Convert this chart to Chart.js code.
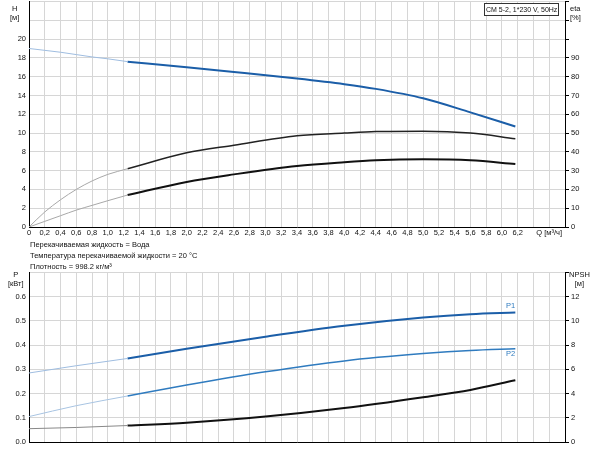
<!DOCTYPE html>
<html><head><meta charset="utf-8">
<script src="https://cdn.jsdelivr.net/npm/chart.js@4"></script>
<style>
body{margin:0;background:#fff;font-family:"Liberation Sans",Arial,sans-serif;overflow:hidden;}
#c1{position:absolute;left:0;top:-6px;}
#c2{position:absolute;left:0;top:265px;}
.t{position:absolute;font-size:7.5px;color:#111;line-height:9px;white-space:nowrap;}
</style></head><body>
<canvas id="c1" width="600" height="247"></canvas>
<canvas id="c2" width="600" height="185"></canvas>
<div class="t" style="left:10px;top:4px;text-align:center">H<br>[м]</div>
<div class="t" style="left:570px;top:4px">eta<br>[%]</div>
<div class="t" style="left:484px;top:3px;border:1px solid #333;padding:1px 1px;background:#fff;font-size:7px">CM 5-2, 1*230 V, 50Hz</div>
<div class="t" style="left:30px;top:240px">Перекачиваемая жидкость = Вода</div>
<div class="t" style="left:30px;top:251px">Температура перекачиваемой жидкости = 20 °C</div>
<div class="t" style="left:30px;top:262px">Плотность = 998.2 кг/м³</div>
<div class="t" style="left:8px;top:270px;text-align:center">P<br>[кВт]</div>
<div class="t" style="left:569px;top:270px;text-align:center">NPSH<br>[м]</div>
<div class="t" style="left:506px;top:301px;color:#2f7bbf">P1</div>
<div class="t" style="left:506px;top:349px;color:#2f7bbf">P2</div>
<script>
// data
const qThin = [0, 0.2, 0.4, 0.6, 0.8, 1.0, 1.25];
const qThick = [1.25, 2.0, 2.6, 3.4, 4.0, 4.4, 5.0, 5.6, 6.17];
const hThin = [19.0, 18.8, 18.6, 18.35, 18.1, 17.9, 17.6];
const hThick = [17.6, 17.0, 16.5, 15.8, 15.2, 14.7, 13.7, 12.2, 10.7];
const eta1Thin = [0, 8, 14.5, 20, 24.5, 28, 31];
const eta1Thick = [31, 39.5, 43.5, 48.5, 50, 50.8, 51, 50, 47];
const eta2Thin = [0, 3, 6, 9, 11.5, 14, 17];
const eta2Thick = [17, 24, 28, 32.5, 34.5, 35.5, 36, 35.5, 33.5];
const qP = [0, 0.6, 1.25, 2.0, 3.0, 4.0, 5.0, 5.6, 6.17];
const p1 = [0.285, 0.315, 0.345, 0.385, 0.435, 0.48, 0.514, 0.528, 0.535];
const p2 = [0.105, 0.15, 0.19, 0.235, 0.29, 0.335, 0.365, 0.378, 0.385];
const npsh = [1.1, 1.2, 1.36, 1.6, 2.1, 2.8, 3.7, 4.3, 5.1];

const xy=(xs,ys)=>xs.map((x,i)=>({x,y:ys[i]}));
const font={family:"Liberation Sans",size:7.5};
const grid='#d6d6d6';
const fmt=v=>{const r=Math.round(v*10)/10; if(r===0) return '0'; if(Math.abs(r-6.6)<1e-6) return 'Q [м³/ч]'; return r<=6.2?r.toFixed(1).replace('.',','):'';};
function ds(data,color,w,axis){return {data,borderColor:color,borderWidth:w,pointRadius:0,cubicInterpolationMode:'monotone',fill:false,yAxisID:axis};}
function xScale(show,h){return {type:'linear',min:0,max:6.8,
 ticks:{display:show,stepSize:0.2,autoSkip:false,maxRotation:0,font,color:'#111',callback:fmt,padding:1},
 grid:{color:grid,tickLength:0},border:{color:'#000'},
 afterFit:s=>{s.height=h;}};}
const common={responsive:false,animation:false,plugins:{legend:{display:false},tooltip:{enabled:false}}};

new Chart(document.getElementById('c1'),{type:'line',data:{datasets:[
 ds(xy(qThin,hThin),'#9fbde0',1,'y'),
 ds(xy(qThick,hThick),'#1b5ea8',2,'y'),
 ds(xy(qThin,eta1Thin),'#a8a8a8',1,'y2'),
 ds(xy(qThick,eta1Thick),'#222',1.5,'y2'),
 ds(xy(qThin,eta2Thin),'#a8a8a8',1,'y2'),
 ds(xy(qThick,eta2Thick),'#111',2,'y2')]},
 options:{...common,layout:{padding:{top:0,left:0,right:0,bottom:0}},scales:{
  x:xScale(true,14),
  y:{min:0,max:24,ticks:{stepSize:2,font,color:'#111',callback:v=>v<=20?v:'',padding:3},grid:{color:grid,tickLength:0},border:{color:'#000'},afterFit:s=>{s.width=29;}},
  y2:{position:'right',min:0,max:120,ticks:{stepSize:10,font,color:'#111',callback:v=>v<=90?v:'',padding:2},grid:{drawOnChartArea:false,color:'#000',tickLength:4},border:{color:'#000'},afterFit:s=>{s.width=35;}}
 }}});

new Chart(document.getElementById('c2'),{type:'line',data:{datasets:[
 ds(xy(qP.slice(0,3),p1.slice(0,3)),'#9fbde0',1,'y'),
 ds(xy(qP.slice(2),p1.slice(2)),'#1b5ea8',2,'y'),
 ds(xy(qP.slice(0,3),p2.slice(0,3)),'#a8c4e2',1,'y'),
 ds(xy(qP.slice(2),p2.slice(2)),'#2f7bbf',1.5,'y'),
 ds(xy(qP.slice(0,3),npsh.slice(0,3)),'#888',1,'y2'),
 ds(xy(qP.slice(2),npsh.slice(2)),'#111',2,'y2')]},
 options:{...common,layout:{padding:{top:7,left:0,right:0,bottom:0}},scales:{
  x:xScale(false,8),
  y:{min:0,max:0.7,ticks:{stepSize:0.1,font,color:'#111',callback:v=>v<=0.6?v.toFixed(1):'',padding:3},grid:{color:grid,tickLength:0},border:{color:'#000'},afterFit:s=>{s.width=29;}},
  y2:{position:'right',min:0,max:14,ticks:{stepSize:2,font,color:'#111',callback:v=>v<=12?v:'',padding:2},grid:{drawOnChartArea:false,color:'#000',tickLength:4},border:{color:'#000'},afterFit:s=>{s.width=35;}}
 }}});
</script></body></html>
